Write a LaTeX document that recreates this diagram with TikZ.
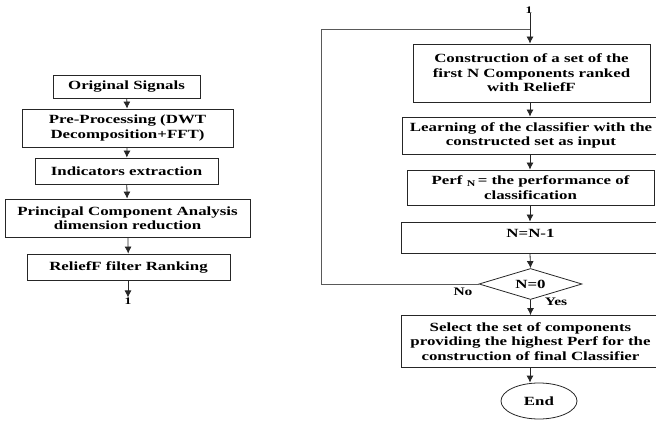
\documentclass[tikz,border=0pt]{standalone}
\usepackage{fontspec}
\setmainfont{Liberation Serif}[FakeStretch=1.35]
\usetikzlibrary{shapes.geometric,arrows.meta}

\tikzset{
  box/.style={draw=black!85, line width=0.8pt, rectangle, align=center, inner sep=0pt},
  flow/.style={draw=black!85, line width=0.8pt, -{Latex[length=7pt,width=7pt]}},
  loopline/.style={draw=black!65, line width=0.8pt},
  lbl/.style={inner sep=0pt},
  conn/.style={inner sep=0pt, font=\bfseries\fontsize{10}{12}\selectfont}
}

\begin{document}
\begin{tikzpicture}[x=1pt,y=-1pt,font=\bfseries\fontsize{12.5}{14.5}\selectfont]
  \useasboundingbox (0,0) rectangle (656,422);
  \clip (0,0) rectangle (656,422);

  % left column: preparation steps
  \node[box, minimum width=147pt, minimum height=23pt] (orig) at (126.5,86.5) {Original Signals};
  \node[box, minimum width=211pt, minimum height=38pt] (pre) at (127.5,128) {Pre-Processing (DWT\\Decomposition+FFT)};
  \node[box, minimum width=183pt, minimum height=26pt] (ind) at (126.5,171) {Indicators extraction};
  \node[box, minimum width=245pt, minimum height=38pt] (pca) at (127.5,218) {Principal Component Analysis\\dimension reduction};
  \node[box, minimum width=203pt, minimum height=26pt] (rel) at (128.5,267) {ReliefF filter Ranking};
  \node[conn] (outA) at (128,301) {1};

  \draw[flow] (orig) -- (pre);
  \draw[flow] (pre) -- (ind);
  \draw[flow] (ind) -- (pca);
  \draw[flow] (pca) -- (rel);
  \draw[flow] (rel.south -| outA) -- (outA.north);

  % right column: selection loop
  \node[conn] (inA) at (529,10) {1};
  \node[box, minimum width=237pt, minimum height=58pt] (cons) at (531.5,73)
    {Construction of a set of the\\first N Components ranked\\with ReliefF};
  \node[box, minimum width=258pt, minimum height=37pt] (learn) at (531,135.5)
    {Learning of the classifier with the\\constructed set as input};
  \node[box, minimum width=247pt, minimum height=35pt] (perf) at (530.5,187.5)
    {Perf $_{\mathbf{N}}$ = the performance of\\classification};
  \node[box, minimum width=259pt, minimum height=31pt, text depth=9pt] (dec) at (530.5,237.5) {N=N-1};
  \node[draw=black!85, line width=0.8pt, diamond, aspect=3.3, inner sep=0pt,
        minimum width=103pt, minimum height=31pt] (test) at (530.5,284) {N=0};
  \node[box, minimum width=259pt, minimum height=52pt] (sel) at (530.5,341.5)
    {Select the set of components\\providing the highest Perf for the\\construction of final Classifier};
  \node[draw=black!85, line width=0.8pt, ellipse, minimum width=76pt, minimum height=36pt, inner sep=0pt] (end) at (539,401) {End};

  \coordinate (join) at (530,29);
  \coordinate (back) at (321,284);

  \draw[flow] (inA.south -| join) -- (cons.north -| join);
  \draw[flow] (cons.south -| join) -- (learn.north -| join);
  \draw[flow] (learn.south -| join) -- (perf.north -| join);
  \draw[flow] (perf.south -| join) -- (dec.north -| join);
  \draw[flow] (dec.south -| join) -- (test.north);
  \draw[flow] (test.south) -- (sel.north -| test.south);
  \draw[flow] (sel.south -| join) -- (join |- end.north);
  \draw[loopline] (test.west) -- (back) |- (join);

  \node[lbl, font=\bfseries\fontsize{11.5}{13}\selectfont] (no) at (463,292) {No};
  \node[lbl, font=\bfseries\fontsize{11.5}{13}\selectfont] (yes) at (556,302) {Yes};
\end{tikzpicture}
\end{document}
